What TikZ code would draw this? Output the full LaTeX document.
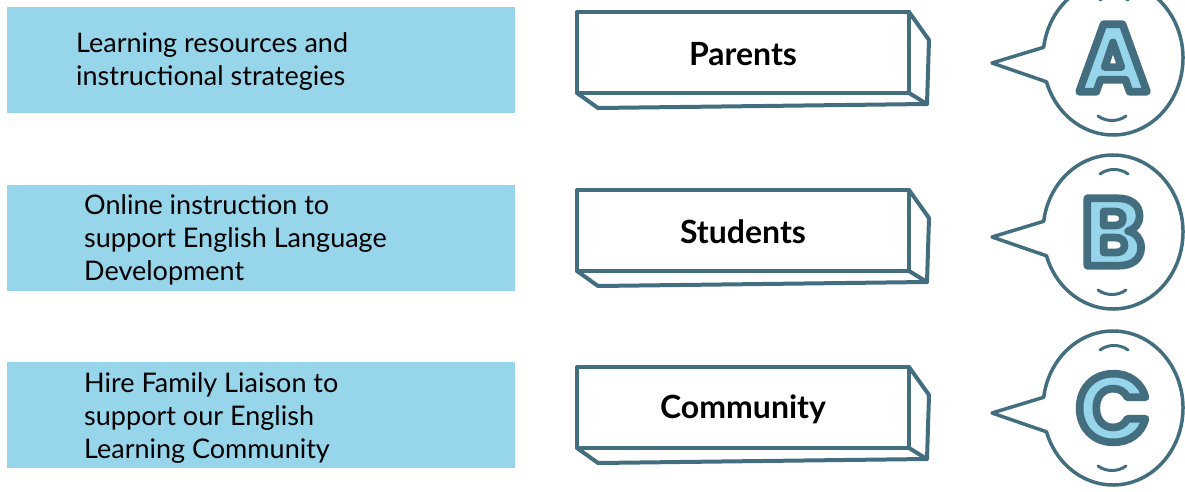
\documentclass[tikz,border=0pt]{standalone}
\usepackage{fontspec}
\setmainfont{Lato}
\newfontfamily\letterfont{Poppins}[FakeBold=8]
\definecolor{boxblue}{RGB}{151,213,234}
\definecolor{inkline}{RGB}{66,110,128}
% fill and stroke colour for the outlined letters
\newcommand\inkletter[1]{\special{pdf:bcolor [0.592 0.835 0.918] [0.259 0.431 0.502]}#1\special{pdf:ecolor}}
\begin{document}
\begin{tikzpicture}[x=1pt,y=-1pt,line join=round,line cap=round,
  infobox/.style={fill=boxblue},
  blockline/.style={draw=inkline,line width=4pt},
  bubbleline/.style={draw=inkline,line width=3.5pt,fill=white},
  smileline/.style={draw=inkline,line width=3pt},
  infotext/.style={anchor=west,align=left,inner sep=0pt,font=\fontsize{27}{33}\selectfont},
  blocktext/.style={inner sep=0pt,font=\bfseries\fontsize{32}{38}\selectfont},
  lettertext/.style={inner sep=0pt,font=\letterfont\bfseries\fontsize{96}{96}\selectfont}]
\useasboundingbox (0,0) rectangle (1185,492);
\clip (0,0) rectangle (1185,492);
\foreach \o/\tx/\ty/\txt/\lab/\by/\ch in {
  0/76/62/{Learning resources and\\instructional strategies}/Parents/58/A,
  178/84/240/{Online instruction to\\support English Language\\Development}/Students/232/B,
  355/84/418/{Hire Family Liaison to\\support our English\\Learning Community}/Community/408/C}{
  % left info box
  \fill[infobox] (7,{7+\o}) rectangle (515,{113+\o});
  \node[infotext] (info\ch) at (\tx,\ty) {\txt};
  % 3d block
  \draw[blockline] (577,{12+\o}) rectangle (909,{93+\o});
  \draw[blockline] (909,{12+\o}) -- (929,{40+\o}) -- (927,{104+\o}) -- (598,{108+\o}) -- (577,{93+\o}) (909,{93+\o}) -- (927,{104+\o});
  \node[blocktext] (block\ch) at (743,{54+\o}) {\lab};
  % speech bubble
  \draw[bubbleline] (1113,\by) ++(188:70 and 77) arc[start angle=188,end angle=522,x radius=70,y radius=77] -- (992,{\by+5}) -- cycle;
  \draw[smileline] (1098,{\by+58}) .. controls (1106,{\by+64}) and (1118,{\by+64}) .. (1126,{\by+58});
  \draw[smileline] (1100,{\by-58}) .. controls (1108,{\by-64}) and (1120,{\by-64}) .. (1128,{\by-58});
  \node[lettertext] (letter\ch) at (1113,\by) {\inkletter{\ch}};
}
\end{tikzpicture}
\end{document}
